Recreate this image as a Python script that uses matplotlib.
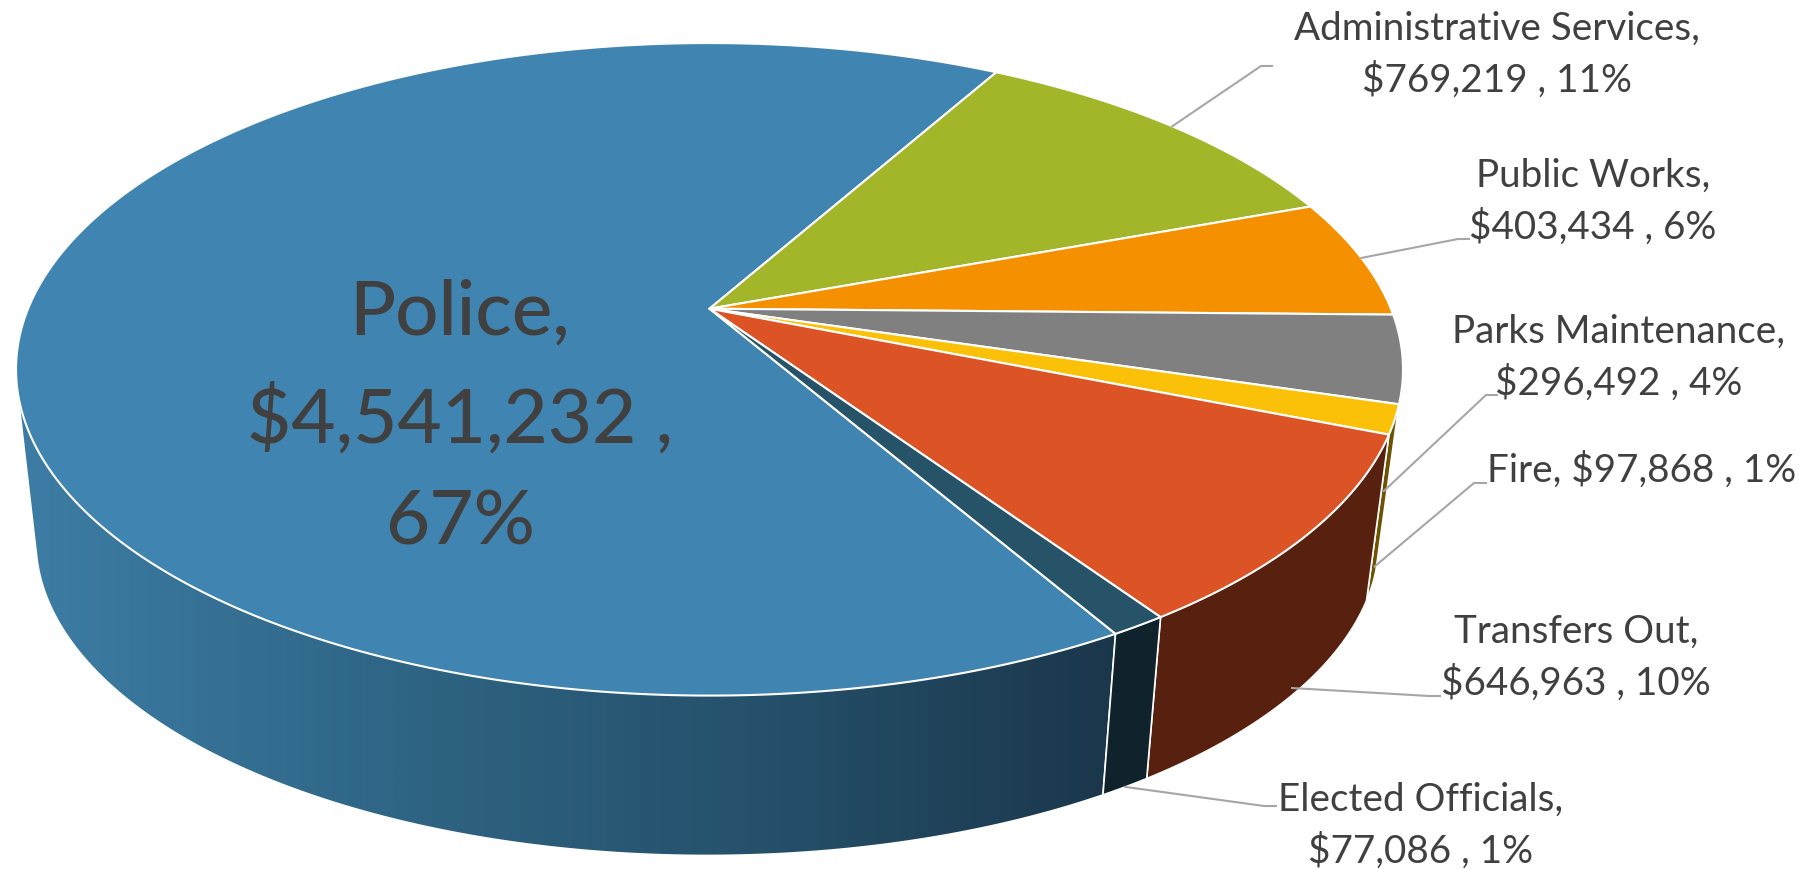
import numpy as np
import matplotlib.pyplot as plt
from matplotlib.colors import LinearSegmentedColormap
from matplotlib.patches import Polygon

plt.rcParams['font.family'] = ['Lato', 'DejaVu Sans']

W, H = 1813, 869

categories = ["Police", "Administrative Services", "Public Works", "Parks Maintenance",
              "Fire", "Transfers Out", "Elected Officials"]
values = [4541232, 769219, 403434, 296492, 97868, 646963, 77086]
percents = [67, 11, 6, 4, 1, 10, 1]

top_colors = ["#4085B1", "#A3B528", "#F59000", "#808080", "#FBC108", "#DC5326", "#265368"]
wall_colors = ["#2F6585", "#5F6A17", "#8F5400", "#4B4B4B", "#6B5300", "#58200E", "#10222B"]
police_wall_cmap = LinearSegmentedColormap.from_list("police_wall", ["#3D7DA5", "#2F6585", "#25506A", "#1A3549"])

start_angle = 150.0  # degrees clockwise from 12 o'clock

# perspective camera, in pixels
cx, cy = 709.5, 308.7
rx = 681.4
ry_top, ry_bottom = 315.0, 280.0
tilt_top, tilt_bottom = 0.1858, 0.20
shrink, drop, shift = 0.034, 176.0, -2.0


def project(theta, z=0.0, r=1.0):
    t = np.radians(theta)
    px = r * np.sin(t)
    py = -r * np.cos(t)
    w = 1 + shrink * z - (tilt_top + (tilt_bottom - tilt_top) * z) * py
    ry = ry_top + (ry_bottom - ry_top) * z
    return cx + (rx * px + shift * z) / w, cy + (ry * py + drop * z) / w


def arc(a0, a1, z=0.0):
    th = np.linspace(a0, a1, max(int(abs(a1 - a0) * 2), 2) + 1)
    x, y = project(th, z)
    return np.column_stack([x, y])


def hull(pts):
    # monotone chain, the wall outline is the hull of its upper and lower rim
    pts = sorted(map(tuple, pts))

    def half(seq):
        out = []
        for p in seq:
            while len(out) > 1 and ((out[-1][0] - out[-2][0]) * (p[1] - out[-2][1])
                                    - (out[-1][1] - out[-2][1]) * (p[0] - out[-2][0])) <= 0:
                out.pop()
            out.append(p)
        return out[:-1]

    return np.array(half(pts) + half(pts[::-1]))


fig = plt.figure(figsize=(W / 100, H / 100), dpi=100)
ax = fig.add_axes([0, 0, 1, 1])
ax.set_xlim(0, W)
ax.set_ylim(H, 0)
ax.axis("off")

total = sum(values)
spans = [v / total * 360 for v in values]
edges = start_angle + np.concatenate([[0], np.cumsum(spans)])

# side walls first, the top face covers whatever is behind it
for i in range(len(values)):
    a0, a1 = edges[i], edges[i + 1]
    if i == 0:
        a1 = 300.0  # the rest of this wall sits behind the top face
    if i in (1, 2):
        continue
    pts = hull(np.vstack([arc(a0, a1, 0), arc(a0, a1, 1)]))
    if i == 0:
        patch = Polygon(pts, closed=True, fc="none", ec="none")
        ax.add_patch(patch)
        grad = np.linspace(0, 1, 512).reshape(1, -1)
        im = ax.imshow(grad, cmap=police_wall_cmap, extent=[20, 1140, H, 0], aspect="auto", zorder=1)
        im.set_clip_path(patch)
        ax.set_xlim(0, W)
        ax.set_ylim(H, 0)
        ax.add_patch(Polygon(pts, closed=True, fc="none", ec="white", lw=1.2, zorder=2))
    else:
        ax.add_patch(Polygon(pts, closed=True, fc=wall_colors[i], ec="white", lw=1.2, zorder=2))

apex = np.array(project(0.0, 0.0, 0.0))
for i in range(len(values)):
    pts = np.vstack([apex, arc(edges[i], edges[i + 1], 0)])
    ax.add_patch(Polygon(pts, closed=True, fc=top_colors[i], ec="white", lw=1.5, zorder=3, joinstyle="round"))

# leader lines run from each slice's mid angle to a short elbow beside its label
leader_depth = [None, 0.0, 0.0, 0.78, 0.88, 0.95, 1.0]
leader_elbow = [None, (1261, 66), (1458, 239), (1486, 395), (1474, 483), (1429, 696), (1264, 806)]
leader_end = [None, (1272, 66), (1469, 239), (1497, 395), (1486, 483), (1440, 696), (1276, 806)]

for i in range(1, len(values)):
    mid = (edges[i] + edges[i + 1]) / 2
    sx, sy = project(mid, leader_depth[i])
    ex, ey = leader_elbow[i]
    fx, fy = leader_end[i]
    ax.plot([sx, ex, fx], [sy, ey, fy], color="#A6A6A6", lw=1.5, zorder=4)

label_pos = [None, (1497, 55), (1593, 202), (1619, 358), (1642, 470), (1576, 658), (1421, 826)]
for i in range(1, len(values)):
    if categories[i] == "Fire":
        text = f"{categories[i]}, ${values[i]:,} , {percents[i]}%"
    else:
        text = f"{categories[i]},\n${values[i]:,} , {percents[i]}%"
    x, y = label_pos[i]
    ax.text(x, y, text, ha="center", va="center", fontsize=27.8, color="#404040",
            linespacing=1.49, zorder=5)

ax.text(460, 418, f"{categories[0]},\n${values[0]:,} ,\n{percents[0]}%", ha="center", va="center",
        fontsize=55, fontweight=500, color="#404040", linespacing=1.6, zorder=5)

fig.savefig("out.png", dpi=100, facecolor="white")
